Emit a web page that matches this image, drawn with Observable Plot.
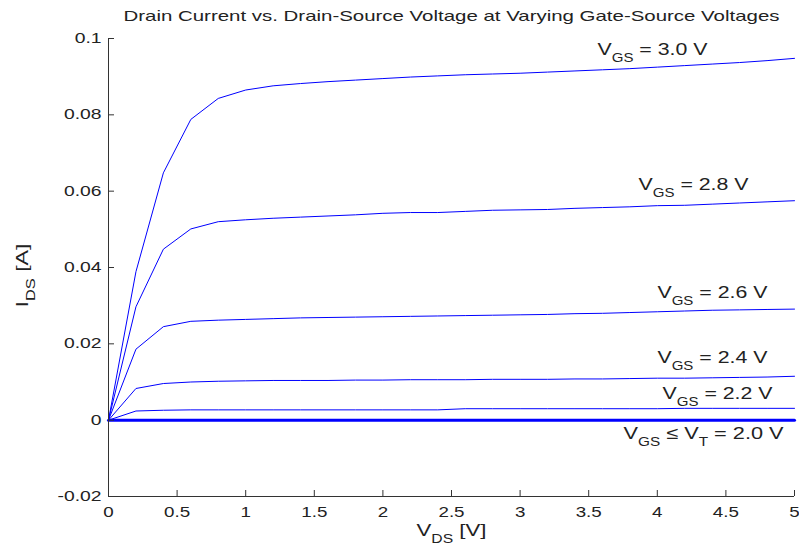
<!DOCTYPE html>
<html><head><meta charset="utf-8">
<script src="https://cdn.jsdelivr.net/npm/d3@7"></script>
<script src="https://cdn.jsdelivr.net/npm/@observablehq/plot@0.6"></script>
<style>
body{margin:0;background:#fff;}
#chart svg{display:block;font-family:"Liberation Sans",Arial,sans-serif;}
</style></head><body><div id="chart"></div>
<script>
// ---- data ----
const vds = [0,0.2,0.4,0.6,0.8,1,1.2,1.4,1.6,1.8,2,2.2,2.4,2.6,2.8,3,3.2,3.4,3.6,3.8,4,4.2,4.4,4.6,4.8,5];
const ids30 = [0,0.0389,0.0648,0.0788,0.0843,0.0865,0.0876,0.0882,0.0887,0.0891,0.0895,0.0899,0.0902,0.0905,0.0907,0.0909,0.0912,0.0915,0.0918,0.0921,0.0925,0.0929,0.0933,0.0937,0.0942,0.0948];
const ids28 = [0,0.0297,0.0448,0.0501,0.0520,0.0525,0.0529,0.0532,0.0535,0.0538,0.0542,0.0544,0.0544,0.0547,0.0550,0.0551,0.0552,0.0555,0.0557,0.0559,0.0562,0.0563,0.0566,0.0569,0.0572,0.0575];
const ids26 = [0,0.0186,0.0245,0.0259,0.0262,0.0264,0.0266,0.0268,0.0269,0.0270,0.0271,0.0272,0.0273,0.0274,0.0275,0.0276,0.0277,0.0279,0.0280,0.0282,0.0284,0.0286,0.0288,0.0289,0.0290,0.0291];
const ids24 = [0,0.0083,0.0096,0.0100,0.0102,0.0103,0.0104,0.0104,0.0104,0.0105,0.0105,0.0106,0.0106,0.0106,0.0107,0.0107,0.0107,0.0108,0.0108,0.0109,0.0110,0.0110,0.0111,0.0112,0.0113,0.0115];
const ids22 = [0,0.0024,0.0026,0.0027,0.0027,0.0027,0.0027,0.0027,0.0027,0.0027,0.0027,0.0027,0.0027,0.0030,0.0030,0.0030,0.0030,0.0030,0.0030,0.0030,0.0030,0.0031,0.0031,0.0031,0.0031,0.0031];
const ids20 = [0,0,0,0,0,0,0,0,0,0,0,0,0,0,0,0,0,0,0,0,0,0,0,0,0,0];
const vgsLevels = ["3.0","2.8","2.6","2.4","2.2","2.0"];
const seriesValues = [ids30, ids28, ids26, ids24, ids22, ids20];
const labelTexts = ["V_{GS} = 3.0 V","V_{GS} = 2.8 V","V_{GS} = 2.6 V","V_{GS} = 2.4 V","V_{GS} = 2.2 V","V_{GS} ≤ V_{T} = 2.0 V"];
const labelVds = [3.564, 3.863, 4.001, 4.001, 4.038, 3.754];
const labelIds = [0.0958, 0.0603, 0.0319, 0.0149, 0.0056, -0.0050];
const xTicks = [0,0.5,1,1.5,2,2.5,3,3.5,4,4.5,5];
const yTicks = [-0.02,0,0.02,0.04,0.06,0.08,0.1];
const titleText = "Drain Current vs. Drain-Source Voltage at Varying Gate-Source Voltages";
const xLabel = "V_{DS} [V]";
const yLabel = "I_{DS} [A]";

// ---- build table ----
const rows = [];
vgsLevels.forEach((v, i) => vds.forEach((x, j) => rows.push({vgs: v, vds: x, ids: seriesValues[i][j]})));
const labels = labelTexts.map((t, i) => ({text: t, vds: labelVds[i], ids: labelIds[i]}));

const ink = "#222";
const plot = Plot.plot({
  width: 799, height: 552,
  marginLeft: 108, marginRight: 5, marginTop: 38, marginBottom: 56,
  style: {fontFamily: '"Liberation Sans", Arial, sans-serif', color: ink, background: "#fff"},
  x: {domain: [0, 5]},
  y: {domain: [-0.02, 0.1]},
  marks: [
    Plot.line(rows.filter(d => d.vgs !== "2.0"), {x: "vds", y: "ids", z: "vgs", stroke: "#0000ff", strokeWidth: 1}),
    Plot.line(rows.filter(d => d.vgs === "2.0"), {x: "vds", y: "ids", stroke: "#0000ff", strokeWidth: 3}),
    Plot.ruleX([0], {stroke: "#333"}),
    Plot.ruleY([-0.02], {stroke: "#333"}),
    Plot.axisX({ticks: xTicks, tickFormat: d => String(d), tickSize: -6, tickPadding: 17, fontSize: 14, label: null, stroke: "#333", fill: ink}),
    Plot.axisY({ticks: yTicks, tickFormat: d => String(d), tickSize: -6, tickPadding: 13, fontSize: 14, label: null, stroke: "#333", fill: ink}),
    Plot.text(labels, {x: "vds", y: "ids", text: "text", textAnchor: "start", lineAnchor: "bottom", fontSize: 17, fill: ink, className: "rich lbl"}),
    Plot.text([titleText], {frameAnchor: "top", dy: -17.5, lineAnchor: "bottom", textAnchor: "middle", fontSize: 15, fill: ink, className: "ttl"}),
    Plot.text([xLabel], {frameAnchor: "bottom", dy: 39, lineAnchor: "bottom", textAnchor: "middle", fontSize: 17, fill: ink, className: "rich xl"}),
    Plot.text([yLabel], {frameAnchor: "left", dx: -81, dy: 8, rotate: -90, lineAnchor: "bottom", textAnchor: "middle", fontSize: 17, fill: ink, className: "rich yl"})
  ]
});
document.getElementById("chart").appendChild(plot);

// ---- subscripts & width matching ----
const NS = "http://www.w3.org/2000/svg";
function rich(el) {
  const s = el.textContent;
  if (!s.includes("_{")) return;
  el.textContent = "";
  const parts = s.split(/(_\{[^}]*\})/);
  let down = false;
  for (const p of parts) {
    if (!p) continue;
    const t = document.createElementNS(NS, "tspan");
    if (p.startsWith("_{")) {
      t.textContent = p.slice(2, -1);
      t.setAttribute("font-size", "12px");
      t.setAttribute("dy", "7");
      down = true;
    } else {
      t.textContent = p;
      if (down) { t.setAttribute("dy", "-7"); down = false; }
    }
    el.appendChild(t);
  }
}
function stretch(el, target) {
  el.setAttribute("textLength", target);
  el.setAttribute("lengthAdjust", "spacingAndGlyphs");
}
function scale(el, f) {
  const w = el.getComputedTextLength();
  stretch(el, w * f);
}
const svg = d3.select(plot);
svg.selectAll("g.rich text").each(function () { rich(this); });
svg.selectAll("g.lbl text").each(function () { stretch(this, this.textContent.includes("≤") ? 160 : 110); });
svg.selectAll("g.xl text").each(function () { stretch(this, 70); });
svg.selectAll("g.yl text").each(function () { stretch(this, 64); });
svg.selectAll("g.ttl text").each(function () { stretch(this, 656); });
svg.selectAll('g[aria-label="x-axis tick label"] text').each(function () { scale(this, 1.34); });
svg.selectAll('g[aria-label="y-axis tick label"] text').each(function () { scale(this, 1.38); });
</script></body></html>
